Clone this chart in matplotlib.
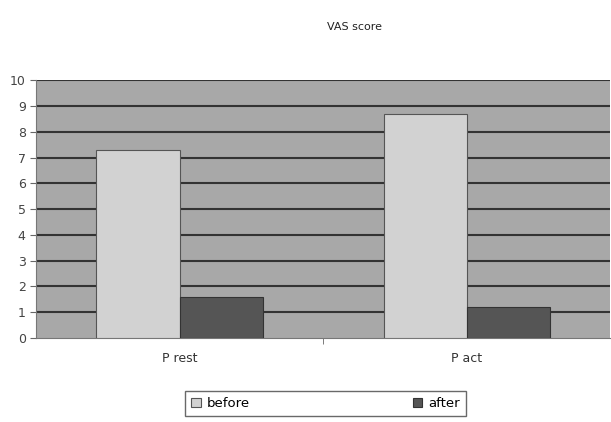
import matplotlib.pyplot as plt
import numpy as np

categories = ["P rest", "P act"]
before = [7.3, 8.7]
after = [1.6, 1.2]

fig = plt.figure(figsize=(6.11, 4.22), dpi=100)
ax = fig.add_axes([0.059, 0.199, 0.94, 0.611])

x = np.arange(len(categories))
w = 0.29
b1 = ax.bar(x - w / 2, before, w, color="#d2d2d2", edgecolor="#555555", linewidth=0.8, label="before", zorder=3)
b2 = ax.bar(x + w / 2, after, w, color="#555555", edgecolor="#333333", linewidth=0.8, label="after", zorder=3)

ax.set_facecolor("#a8a8a8")
ax.set_xlim(-0.5, 1.5)
ax.set_ylim(0, 10)
ax.set_yticks(range(0, 11))
for yv in range(1, 11):
    ax.axhline(yv, color="#333333", linewidth=1.5, zorder=1)

ax.set_xticks(x)
ax.set_xticklabels(categories, fontsize=9, color="#333333")
ax.set_xticks([0.5], minor=True)
ax.tick_params(axis="x", which="major", length=0, pad=10)
ax.tick_params(axis="x", which="minor", length=4, color="#666666")
ax.tick_params(axis="y", length=4, color="#666666", labelsize=9, labelcolor="#444444")
for s in ["top", "right"]:
    ax.spines[s].set_visible(False)
ax.spines["left"].set_color("#777777")
ax.spines["bottom"].set_color("#777777")

fig.text(0.58, 0.93, "VAS score", ha="center", fontsize=8, color="#222222")

leg = fig.legend(handles=[b1, b2], loc="center", bbox_to_anchor=(0.533, 0.043), ncol=2,
                 fontsize=9.5, frameon=True, fancybox=False, edgecolor="#444444",
                 columnspacing=12.3, handlelength=0.7, handleheight=0.7, handletextpad=0.5,
                 borderpad=0.45)
leg.get_frame().set_linewidth(1.0)

fig.savefig("out.png", dpi=100)
